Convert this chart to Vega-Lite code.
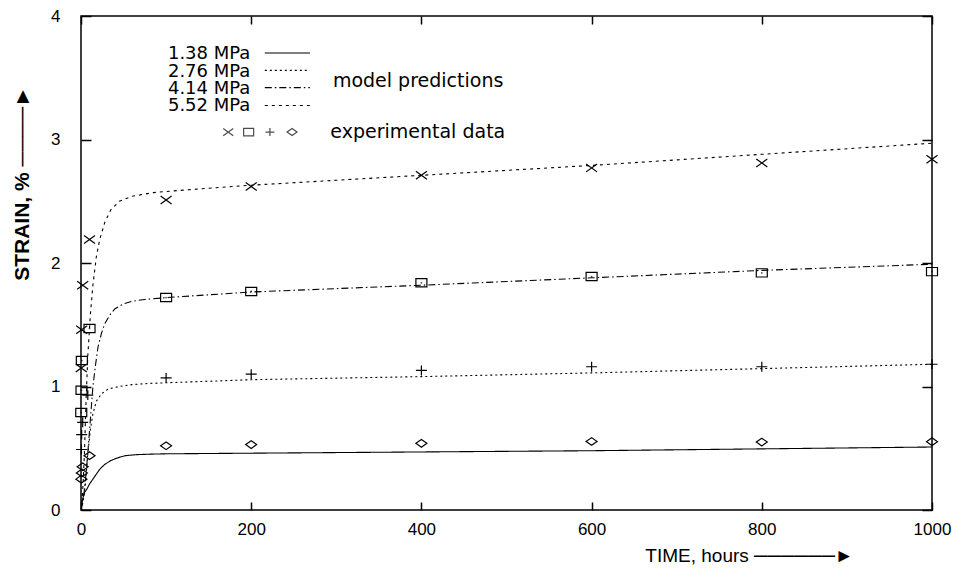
{
  "$schema": "https://vega.github.io/schema/vega-lite/v6.json",
  "width": 851,
  "height": 494,
  "autosize": "none",
  "padding": {"left": 81, "top": 16, "right": 35, "bottom": 68},
  "background": "white",
  "config": {
    "view": {"stroke": "black", "strokeWidth": 1.5},
    "axis": {"grid": false, "domain": false, "tickColor": "black", "tickWidth": 1.5, "labelColor": "black", "titleColor": "black"}
  },
  "datasets": {
    "model": [
      {"p": "1.38 MPa", "t": 0, "s": 0}, {"p": "1.38 MPa", "t": 1, "s": 0.05}, {"p": "1.38 MPa", "t": 2, "s": 0.09}, {"p": "1.38 MPa", "t": 4, "s": 0.14}, {"p": "1.38 MPa", "t": 7, "s": 0.17}, {"p": "1.38 MPa", "t": 10, "s": 0.21}, {"p": "1.38 MPa", "t": 16, "s": 0.27}, {"p": "1.38 MPa", "t": 22, "s": 0.33}, {"p": "1.38 MPa", "t": 28, "s": 0.37}, {"p": "1.38 MPa", "t": 35, "s": 0.40}, {"p": "1.38 MPa", "t": 42, "s": 0.42}, {"p": "1.38 MPa", "t": 52, "s": 0.44}, {"p": "1.38 MPa", "t": 65, "s": 0.448}, {"p": "1.38 MPa", "t": 80, "s": 0.452}, {"p": "1.38 MPa", "t": 100, "s": 0.455}, {"p": "1.38 MPa", "t": 200, "s": 0.46}, {"p": "1.38 MPa", "t": 400, "s": 0.47}, {"p": "1.38 MPa", "t": 600, "s": 0.48}, {"p": "1.38 MPa", "t": 800, "s": 0.495}, {"p": "1.38 MPa", "t": 1000, "s": 0.51},
      {"p": "2.76 MPa", "t": 0, "s": 0}, {"p": "2.76 MPa", "t": 2, "s": 0.05}, {"p": "2.76 MPa", "t": 5, "s": 0.2}, {"p": "2.76 MPa", "t": 8, "s": 0.45}, {"p": "2.76 MPa", "t": 11, "s": 0.65}, {"p": "2.76 MPa", "t": 14, "s": 0.78}, {"p": "2.76 MPa", "t": 18, "s": 0.88}, {"p": "2.76 MPa", "t": 24, "s": 0.94}, {"p": "2.76 MPa", "t": 32, "s": 0.98}, {"p": "2.76 MPa", "t": 45, "s": 1.0}, {"p": "2.76 MPa", "t": 60, "s": 1.015}, {"p": "2.76 MPa", "t": 80, "s": 1.025}, {"p": "2.76 MPa", "t": 100, "s": 1.03}, {"p": "2.76 MPa", "t": 200, "s": 1.055}, {"p": "2.76 MPa", "t": 400, "s": 1.08}, {"p": "2.76 MPa", "t": 600, "s": 1.11}, {"p": "2.76 MPa", "t": 800, "s": 1.145}, {"p": "2.76 MPa", "t": 1000, "s": 1.18},
      {"p": "4.14 MPa", "t": 0, "s": 0}, {"p": "4.14 MPa", "t": 3, "s": 0.1}, {"p": "4.14 MPa", "t": 6, "s": 0.3}, {"p": "4.14 MPa", "t": 9, "s": 0.55}, {"p": "4.14 MPa", "t": 12, "s": 0.82}, {"p": "4.14 MPa", "t": 14, "s": 1.0}, {"p": "4.14 MPa", "t": 17, "s": 1.17}, {"p": "4.14 MPa", "t": 20, "s": 1.32}, {"p": "4.14 MPa", "t": 24, "s": 1.43}, {"p": "4.14 MPa", "t": 28, "s": 1.51}, {"p": "4.14 MPa", "t": 34, "s": 1.58}, {"p": "4.14 MPa", "t": 40, "s": 1.63}, {"p": "4.14 MPa", "t": 50, "s": 1.67}, {"p": "4.14 MPa", "t": 60, "s": 1.69}, {"p": "4.14 MPa", "t": 75, "s": 1.705}, {"p": "4.14 MPa", "t": 100, "s": 1.72}, {"p": "4.14 MPa", "t": 200, "s": 1.765}, {"p": "4.14 MPa", "t": 400, "s": 1.82}, {"p": "4.14 MPa", "t": 600, "s": 1.88}, {"p": "4.14 MPa", "t": 800, "s": 1.94}, {"p": "4.14 MPa", "t": 1000, "s": 1.99},
      {"p": "5.52 MPa", "t": 0, "s": 0}, {"p": "5.52 MPa", "t": 2, "s": 0.15}, {"p": "5.52 MPa", "t": 4, "s": 0.45}, {"p": "5.52 MPa", "t": 6, "s": 0.9}, {"p": "5.52 MPa", "t": 8, "s": 1.25}, {"p": "5.52 MPa", "t": 11, "s": 1.58}, {"p": "5.52 MPa", "t": 14, "s": 1.82}, {"p": "5.52 MPa", "t": 18, "s": 2.05}, {"p": "5.52 MPa", "t": 22, "s": 2.19}, {"p": "5.52 MPa", "t": 28, "s": 2.33}, {"p": "5.52 MPa", "t": 35, "s": 2.43}, {"p": "5.52 MPa", "t": 45, "s": 2.5}, {"p": "5.52 MPa", "t": 60, "s": 2.54}, {"p": "5.52 MPa", "t": 85, "s": 2.57}, {"p": "5.52 MPa", "t": 120, "s": 2.59}, {"p": "5.52 MPa", "t": 200, "s": 2.63}, {"p": "5.52 MPa", "t": 300, "s": 2.67}, {"p": "5.52 MPa", "t": 400, "s": 2.71}, {"p": "5.52 MPa", "t": 600, "s": 2.79}, {"p": "5.52 MPa", "t": 800, "s": 2.88}, {"p": "5.52 MPa", "t": 1000, "s": 2.97}
    ],
    "exp": [
      {"p": "5.52 MPa", "t": 0.3, "s": 1.15}, {"p": "5.52 MPa", "t": 0.8, "s": 1.46}, {"p": "5.52 MPa", "t": 2, "s": 1.82}, {"p": "5.52 MPa", "t": 10, "s": 2.19}, {"p": "5.52 MPa", "t": 100, "s": 2.51}, {"p": "5.52 MPa", "t": 200, "s": 2.62}, {"p": "5.52 MPa", "t": 400, "s": 2.71}, {"p": "5.52 MPa", "t": 600, "s": 2.77}, {"p": "5.52 MPa", "t": 800, "s": 2.81}, {"p": "5.52 MPa", "t": 1000, "s": 2.84},
      {"p": "4.14 MPa", "t": 0.3, "s": 0.79}, {"p": "4.14 MPa", "t": 0.6, "s": 0.97}, {"p": "4.14 MPa", "t": 1, "s": 1.21}, {"p": "4.14 MPa", "t": 10, "s": 1.47}, {"p": "4.14 MPa", "t": 100, "s": 1.72}, {"p": "4.14 MPa", "t": 200, "s": 1.77}, {"p": "4.14 MPa", "t": 400, "s": 1.84}, {"p": "4.14 MPa", "t": 600, "s": 1.89}, {"p": "4.14 MPa", "t": 800, "s": 1.92}, {"p": "4.14 MPa", "t": 1000, "s": 1.93},
      {"p": "2.76 MPa", "t": 0.5, "s": 0.49}, {"p": "2.76 MPa", "t": 0.8, "s": 0.61}, {"p": "2.76 MPa", "t": 2, "s": 0.71}, {"p": "2.76 MPa", "t": 8, "s": 0.93}, {"p": "2.76 MPa", "t": 100, "s": 1.07}, {"p": "2.76 MPa", "t": 200, "s": 1.1}, {"p": "2.76 MPa", "t": 400, "s": 1.13}, {"p": "2.76 MPa", "t": 600, "s": 1.16}, {"p": "2.76 MPa", "t": 800, "s": 1.16}, {"p": "2.76 MPa", "t": 1000, "s": 1.18},
      {"p": "1.38 MPa", "t": 0.5, "s": 0.25}, {"p": "1.38 MPa", "t": 1, "s": 0.3}, {"p": "1.38 MPa", "t": 2, "s": 0.35}, {"p": "1.38 MPa", "t": 10, "s": 0.44}, {"p": "1.38 MPa", "t": 100, "s": 0.52}, {"p": "1.38 MPa", "t": 200, "s": 0.53}, {"p": "1.38 MPa", "t": 400, "s": 0.54}, {"p": "1.38 MPa", "t": 600, "s": 0.555}, {"p": "1.38 MPa", "t": 800, "s": 0.55}, {"p": "1.38 MPa", "t": 1000, "s": 0.553}
    ]
  },
  "layer": [
    {
      "data": {"name": "model"},
      "mark": {"type": "line", "color": "black", "strokeWidth": 1.1, "clip": true},
      "encoding": {
        "x": {"field": "t", "type": "quantitative", "scale": {"domain": [0, 1000], "nice": false, "zero": false},
          "axis": {"orient": "bottom", "values": [0, 200, 400, 600, 800, 1000], "format": "d", "tickSize": -8, "labelFlush": false, "labelFont": "Liberation Sans", "labelFontSize": 17, "labelPadding": 19,
            "title": "TIME, hours  ──────►", "titleFont": "Liberation Sans", "titleFontSize": 19, "titleFontWeight": "normal", "titleX": 668, "titleY": 45, "titleBaseline": "middle", "titleAlign": "center"}},
        "y": {"field": "s", "type": "quantitative", "scale": {"domain": [0, 4], "nice": false, "zero": false},
          "axis": {"orient": "left", "values": [0, 1, 2, 3, 4], "format": "d", "tickSize": -10, "labelFont": "Liberation Sans", "labelFontSize": 17, "labelPadding": 31, "labelFlush": false,
            "title": "STRAIN, %  ────►", "titleFont": "Liberation Sans", "titleFontSize": 21, "titleFontWeight": "bold", "titleX": -59, "titleY": 167, "titleAngle": -90, "titleBaseline": "middle", "titleAlign": "center"}},
        "detail": {"field": "p"},
        "strokeDash": {"field": "p", "type": "nominal", "legend": null,
          "scale": {"domain": ["1.38 MPa", "2.76 MPa", "4.14 MPa", "5.52 MPa"], "range": [[1, 0], [2, 3], [7, 3, 1.5, 3], [3, 4]]}}
      }
    },
    {
      "data": {"name": "exp"},
      "mark": {"type": "point", "filled": false, "stroke": "black", "strokeWidth": 1.2, "opacity": 1},
      "encoding": {
        "x": {"field": "t", "type": "quantitative", "axis": {"orient": "top", "values": [0, 200, 400, 600, 800, 1000], "tickSize": -8, "labels": false, "title": null}},
        "y": {"field": "s", "type": "quantitative", "axis": {"orient": "right", "values": [0, 1, 2, 3, 4], "tickSize": -10, "labels": false, "title": null}},
        "shape": {"field": "p", "type": "nominal", "legend": null,
          "scale": {"domain": ["1.38 MPa", "2.76 MPa", "4.14 MPa", "5.52 MPa"], "range": ["M-1,0L0,-0.7L1,0L0,0.7Z", "M-1,0L1,0M0,-0.9L0,0.9", "M-1,-0.75H1V0.75H-1Z", "M-1,-0.72L1,0.72M-1,0.72L1,-0.72"]}},
        "size": {"value": 121}
      }
    },
    {
      "data": {"name": "exp"},
      "transform": [{"filter": "datum.p == '4.14 MPa'"}],
      "mark": {"type": "point", "filled": true, "color": "black", "size": 3, "shape": "circle"},
      "encoding": {
        "x": {"field": "t", "type": "quantitative", "axis": null},
        "y": {"field": "s", "type": "quantitative", "axis": null}
      }
    },
    {
      "data": {"values": [{}]},
      "layer": [
        {"mark": {"type": "text", "align": "right", "baseline": "middle", "font": "DejaVu Sans", "fontSize": 18, "lineHeight": 17.3, "color": "black", "text": ["1.38 MPa", "2.76 MPa", "4.14 MPa", "5.52 MPa"]},
          "encoding": {"x": {"datum": 199, "type": "quantitative", "axis": null}, "y": {"datum": 3.69, "type": "quantitative", "axis": null}}},
        {"mark": {"type": "rule", "color": "black", "strokeWidth": 1.1},
          "encoding": {"x": {"datum": 216, "type": "quantitative", "axis": null}, "x2": {"datum": 269}, "y": {"datum": 3.70, "type": "quantitative", "axis": null}}},
        {"mark": {"type": "rule", "color": "black", "strokeWidth": 1.1, "strokeDash": [2, 3]},
          "encoding": {"x": {"datum": 216, "type": "quantitative", "axis": null}, "x2": {"datum": 269}, "y": {"datum": 3.56, "type": "quantitative", "axis": null}}},
        {"mark": {"type": "rule", "color": "black", "strokeWidth": 1.1, "strokeDash": [7, 3, 1.5, 3]},
          "encoding": {"x": {"datum": 216, "type": "quantitative", "axis": null}, "x2": {"datum": 269}, "y": {"datum": 3.42, "type": "quantitative", "axis": null}}},
        {"mark": {"type": "rule", "color": "black", "strokeWidth": 1.1, "strokeDash": [3, 4]},
          "encoding": {"x": {"datum": 216, "type": "quantitative", "axis": null}, "x2": {"datum": 269}, "y": {"datum": 3.275, "type": "quantitative", "axis": null}}},
        {"mark": {"type": "text", "align": "left", "baseline": "middle", "font": "DejaVu Sans", "fontSize": 19, "color": "black", "text": "model predictions"},
          "encoding": {"x": {"datum": 296, "type": "quantitative", "axis": null}, "y": {"datum": 3.47, "type": "quantitative", "axis": null}}},
        {"mark": {"type": "text", "align": "left", "baseline": "middle", "font": "DejaVu Sans", "fontSize": 19, "color": "black", "text": "experimental data"},
          "encoding": {"x": {"datum": 293, "type": "quantitative", "axis": null}, "y": {"datum": 3.06, "type": "quantitative", "axis": null}}},
        {"mark": {"type": "point", "filled": false, "stroke": "black", "strokeWidth": 1.2, "size": 100, "shape": "M-1,-0.72L1,0.72M-1,0.72L1,-0.72"},
          "encoding": {"x": {"datum": 173, "type": "quantitative", "axis": null}, "y": {"datum": 3.06, "type": "quantitative", "axis": null}}},
        {"mark": {"type": "point", "filled": false, "stroke": "black", "strokeWidth": 1.2, "size": 100, "shape": "M-1,-0.75H1V0.75H-1Z"},
          "encoding": {"x": {"datum": 197, "type": "quantitative", "axis": null}, "y": {"datum": 3.06, "type": "quantitative", "axis": null}}},
        {"mark": {"type": "point", "filled": false, "stroke": "black", "strokeWidth": 1.2, "size": 80, "shape": "M-1,0L1,0M0,-0.9L0,0.9"},
          "encoding": {"x": {"datum": 222, "type": "quantitative", "axis": null}, "y": {"datum": 3.06, "type": "quantitative", "axis": null}}},
        {"mark": {"type": "point", "filled": false, "stroke": "black", "strokeWidth": 1.2, "size": 100, "shape": "M-1,0L0,-0.7L1,0L0,0.7Z"},
          "encoding": {"x": {"datum": 248, "type": "quantitative", "axis": null}, "y": {"datum": 3.06, "type": "quantitative", "axis": null}}}
      ]
    }
  ]
}
